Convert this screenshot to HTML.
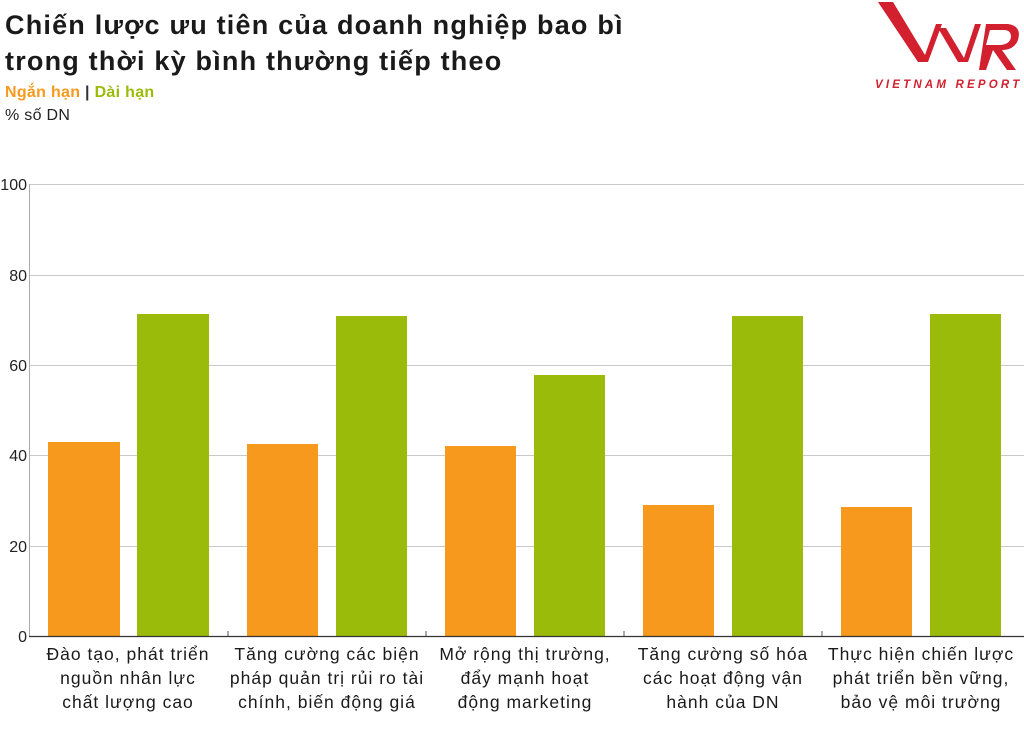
<!DOCTYPE html>
<html><head><meta charset="utf-8"><style>
body{margin:0;background:#fff;width:1024px;height:724px;overflow:hidden;font-family:"Liberation Sans","DejaVu Sans",sans-serif}
</style></head><body>
<svg width="1024" height="724" xmlns="http://www.w3.org/2000/svg" font-family="Liberation Sans, DejaVu Sans, sans-serif">
<text x="5" y="34" font-size="27" font-weight="bold" fill="#1a1a1a" letter-spacing="1.2">Chiến lược ưu tiên của doanh nghiệp bao bì</text>
<text x="5" y="70" font-size="27" font-weight="bold" fill="#1a1a1a" letter-spacing="1.2">trong thời kỳ bình thường tiếp theo</text>
<text x="5" y="97" font-size="16" font-weight="bold" letter-spacing="0.3"><tspan fill="#F7991C">Ngắn hạn</tspan><tspan fill="#333"> | </tspan><tspan fill="#9BBB0A">Dài hạn</tspan></text>
<text x="5" y="120" font-size="16" fill="#222" letter-spacing="0.3">% số DN</text>
<!-- logo -->
<g fill="#D2202F">
<polygon points="878,2 893,2 925,55 936,24 942,24 928,62 918,62"/>
<polygon points="938,28 946,28 964,58 975,24 981,24 968,62 958,62"/>
<path d="M986,24 L1008,24 Q1022,26 1018,40 Q1014,50 1002,50 L1016,70 L1007,70 L993,50 L986,70 L979,70 Z M990,30 L986,45 L1001,45 Q1010,44 1011,37 Q1011,30 1004,30 Z"/>
<text x="875" y="88" font-size="11.5" font-weight="bold" font-style="italic" letter-spacing="3.2">VIETNAM REPORT</text>
</g>
<!-- grid -->
<g stroke="#c8c8c8" stroke-width="1">
<line x1="29" y1="184.5" x2="1024" y2="184.5"/>
<line x1="29" y1="275.5" x2="1024" y2="275.5"/>
<line x1="29" y1="365.5" x2="1024" y2="365.5"/>
<line x1="29" y1="455.5" x2="1024" y2="455.5"/>
<line x1="29" y1="546.5" x2="1024" y2="546.5"/>
</g>
<line x1="29.5" y1="184" x2="29.5" y2="636" stroke="#aaa"/>
<g font-size="16" fill="#222" text-anchor="end">
<text x="27" y="190">100</text><text x="27" y="281">80</text><text x="27" y="371">60</text><text x="27" y="461">40</text><text x="27" y="552">20</text><text x="27" y="642">0</text>
</g>
<g fill="#F7991C">
<rect x="48" y="442" width="72" height="194"/>
<rect x="247" y="444" width="71" height="192"/>
<rect x="445" y="446" width="71" height="190"/>
<rect x="643" y="505" width="71" height="131"/>
<rect x="841" y="507" width="71" height="129"/>
</g>
<g fill="#9BBB0A">
<rect x="137" y="314" width="72" height="322"/>
<rect x="336" y="316" width="71" height="320"/>
<rect x="534" y="375" width="71" height="261"/>
<rect x="732" y="316" width="71" height="320"/>
<rect x="930" y="314" width="71" height="322"/>
</g>
<line x1="29" y1="636.5" x2="1024" y2="636.5" stroke="#333" stroke-width="1.2"/>
<g stroke="#555"><line x1="228" y1="631" x2="228" y2="636"/><line x1="426" y1="631" x2="426" y2="636"/><line x1="624" y1="631" x2="624" y2="636"/><line x1="822" y1="631" x2="822" y2="636"/></g>
<g font-size="17.5" fill="#1a1a1a" text-anchor="middle" letter-spacing="1">
<text x="128" y="660">Đào tạo, phát triển</text><text x="128" y="684">nguồn nhân lực</text><text x="128" y="708">chất lượng cao</text>
<text x="327" y="660">Tăng cường các biện</text><text x="327" y="684">pháp quản trị rủi ro tài</text><text x="327" y="708">chính, biến động giá</text>
<text x="525" y="660">Mở rộng thị trường,</text><text x="525" y="684">đẩy mạnh hoạt</text><text x="525" y="708">động marketing</text>
<text x="723" y="660">Tăng cường số hóa</text><text x="723" y="684">các hoạt động vận</text><text x="723" y="708">hành của DN</text>
<text x="921" y="660">Thực hiện chiến lược</text><text x="921" y="684">phát triển bền vững,</text><text x="921" y="708">bảo vệ môi trường</text>
</g>
</svg>
</body></html>
